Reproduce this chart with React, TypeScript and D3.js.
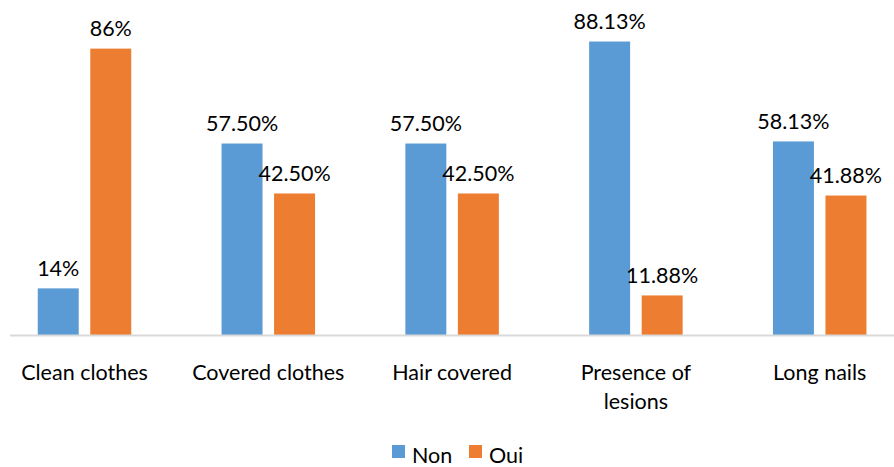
import React from "react";
import * as d3 from "d3";

const categories = ["Clean clothes", "Covered clothes", "Hair covered", "Presence of lesions", "Long nails"];
const categoryLines = [["Clean clothes"], ["Covered clothes"], ["Hair covered"], ["Presence of", "lesions"], ["Long nails"]];
const seriesNames = ["Non", "Oui"];
const nonValues = [14, 57.5, 57.5, 88.13, 58.13];
const ouiValues = [86, 42.5, 42.5, 11.88, 41.88];
const nonLabels = ["14%", "57.50%", "57.50%", "88.13%", "58.13%"];
const ouiLabels = ["86%", "42.50%", "42.50%", "11.88%", "41.88%"];
const colors = ["#5B9BD5", "#ED7D31"];

const W = 894;
const H = 467;
const FONT = "Lato, 'Open Sans', sans-serif";
const FS = 21.5;

export default function App() {
  const x0 = d3.scaleBand<string>().domain(categories).range([-7.4, 911.6]).padding(0);
  const groupW = 93.5;
  const x1 = d3.scaleBand<string>().domain(seriesNames).range([0, groupW]).paddingInner(0.22).paddingOuter(0);
  const y = d3.scaleLinear().domain([0, 100]).range([335, 2]);

  const seriesData = [nonValues, ouiValues];
  const seriesLabels = [nonLabels, ouiLabels];

  return (
    <svg width={W} height={H} style={{ position: "absolute", left: 0, top: 0 }}>
      <rect width={W} height={H} fill="#fff" />
      {seriesNames.map((s, si) =>
        categories.map((c, ci) => {
          const gx = (x0(c) as number) + x0.bandwidth() / 2 - groupW / 2;
          const bx = gx + (x1(s) as number);
          const v = seriesData[si][ci];
          return (
            <g key={s + c}>
              <rect x={bx} y={y(v)} width={x1.bandwidth()} height={y(0) - y(v)} fill={colors[si]} />
              <text
                x={bx + x1.bandwidth() / 2}
                y={y(v) - 12.5}
                textAnchor="middle"
                fontFamily={FONT}
                fontSize={FS}
                fill="#000"
              >
                {seriesLabels[si][ci]}
              </text>
            </g>
          );
        })
      )}
      <line x1={10} x2={W} y1={335.5} y2={335.5} stroke="#D9D9D9" strokeWidth={2} />
      {categories.map((c, ci) => (
        <text
          key={c}
          x={(x0(c) as number) + x0.bandwidth() / 2}
          y={380}
          textAnchor="middle"
          fontFamily={FONT}
          fontSize={FS}
          fill="#000"
        >
          {categoryLines[ci].map((ln, li) => (
            <tspan key={li} x={(x0(c) as number) + x0.bandwidth() / 2} dy={li === 0 ? 0 : 29}>
              {ln}
            </tspan>
          ))}
        </text>
      ))}
      {seriesNames.map((s, si) => {
        const lx = si === 0 ? 392 : 469;
        return (
          <g key={s}>
            <rect x={lx} y={445} width={13} height={13} fill={colors[si]} />
            <text x={lx + 20} y={463} fontFamily={FONT} fontSize={FS} fill="#000">
              {s}
            </text>
          </g>
        );
      })}
    </svg>
  );
}
